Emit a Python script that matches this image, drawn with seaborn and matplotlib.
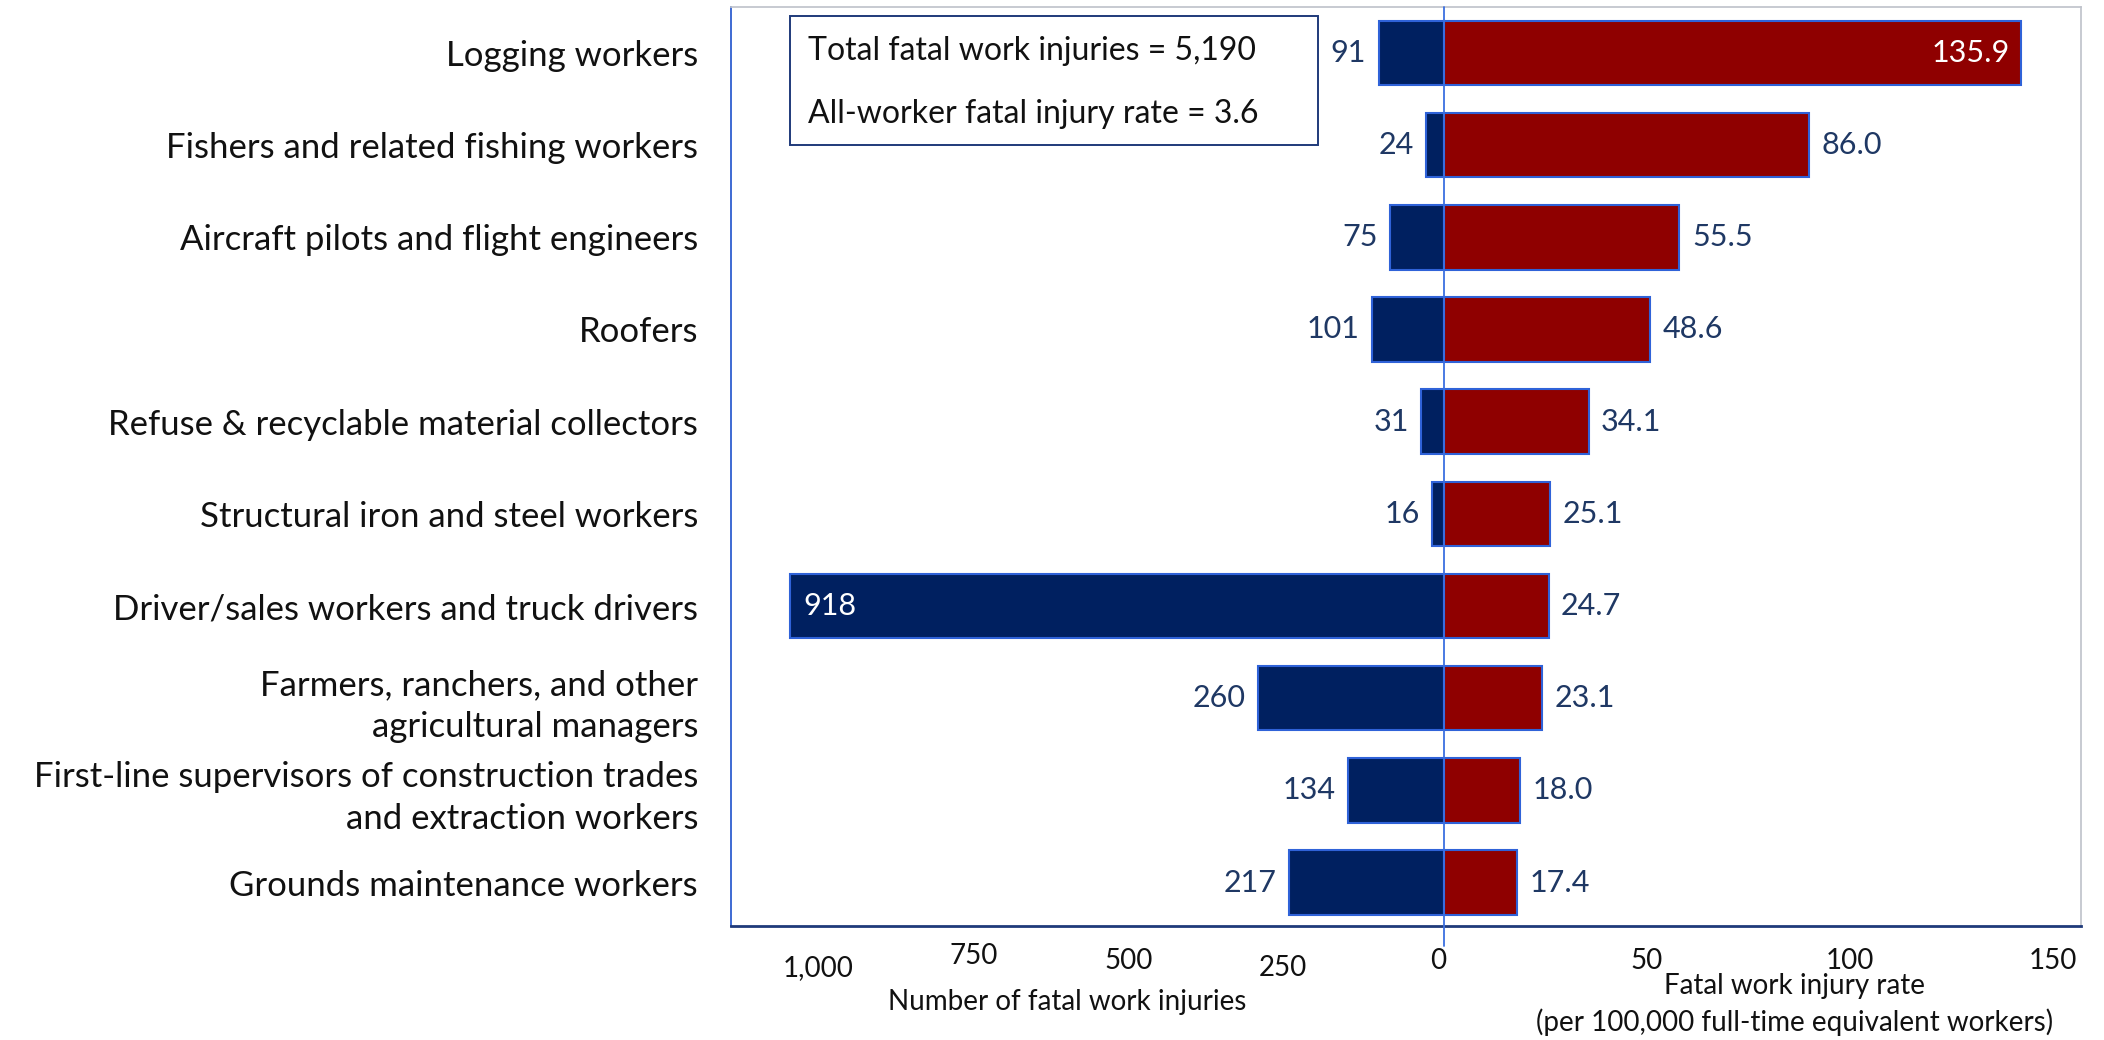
import numpy as np
import pandas as pd
import matplotlib
matplotlib.use('Agg')
import matplotlib.pyplot as plt
import seaborn as sns
from matplotlib.patches import Rectangle

# data
occupations = [
    'Logging workers',
    'Fishers and related fishing workers',
    'Aircraft pilots and flight engineers',
    'Roofers',
    'Refuse & recyclable material collectors',
    'Structural iron and steel workers',
    'Driver/sales workers and truck drivers',
    'Farmers, ranchers, and other\nagricultural managers',
    'First-line supervisors of construction trades\nand extraction workers',
    'Grounds maintenance workers',
]
fatal_counts = [91, 24, 75, 101, 31, 16, 918, 260, 134, 217]
fatal_rates = [135.9, 86.0, 55.5, 48.6, 34.1, 25.1, 24.7, 23.1, 18.0, 17.4]
count_ticks = [1000, 750, 500, 250, 0]
count_tick_labels = ['1,000', '750', '500', '250', '0']
rate_ticks = [50, 100, 150]
rate_tick_labels = ['50', '100', '150']
box_lines = ['Total fatal work injuries = 5,190', 'All-worker fatal injury rate = 3.6']

NAVY = '#002060'
RED = '#8f0000'
EDGE = '#2f62d8'
TXT = '#1f3864'

# counts are drawn on the left, scaled so 1,000 reaches the left frame
k = 0.1675
df = pd.DataFrame({'occ': occupations,
                   'count_x': -np.array(fatal_counts) * k,
                   'rate': fatal_rates})

sns.set_theme(style='white')
plt.rcParams['font.family'] = ['Lato', 'DejaVu Sans']

fig = plt.figure(figsize=(21.04, 10.40), dpi=100)
ax = fig.add_axes([0.3476, 0.1097, 0.6416, 0.8838])

sns.barplot(data=df, x='count_x', y='occ', orient='h', color=NAVY, width=0.7,
            edgecolor=EDGE, linewidth=1.5, saturation=1, ax=ax)
sns.barplot(data=df, x='rate', y='occ', orient='h', color=RED, width=0.7,
            edgecolor=EDGE, linewidth=1.5, saturation=1, ax=ax)

ax.set_xlim(-1000 * k, 150)
ax.set_ylim(9.47, -0.5)
ax.axvline(0, ymin=-0.022, ymax=1, color='#3b6fe0', lw=1.3, clip_on=False, zorder=5)

# value labels
for i, (c, r) in enumerate(zip(fatal_counts, fatal_rates)):
    if c > 800:
        ax.annotate(f'{c}', (-c * k, i), xytext=(10, 0), textcoords='offset points',
                    ha='left', va='center', color='white', fontsize=22)
    else:
        ax.annotate(f'{c}', (-c * k, i), xytext=(-9, 0), textcoords='offset points',
                    ha='right', va='center', color=TXT, fontsize=22)
    if r > 120:
        ax.annotate(f'{r:.1f}', (r, i), xytext=(-8, 0), textcoords='offset points',
                    ha='right', va='center', color='white', fontsize=22)
    else:
        ax.annotate(f'{r:.1f}', (r, i), xytext=(9, 0), textcoords='offset points',
                    ha='left', va='center', color=TXT, fontsize=22)

# axis ticks (labels sit a little off the true positions, as in the original)
left_pos = [-(t * 0.87 * k) - 1.3 for t in count_ticks]
right_pos = [t * 0.955 for t in rate_ticks]
ax.set_xticks(left_pos + right_pos)
ax.set_xticklabels(count_tick_labels + rate_tick_labels, fontsize=20, color='#111111')
ax.tick_params(axis='x', length=0)
pads = [21, 12, 16, 21, 16, 16, 16, 16]
for t, p in zip(ax.xaxis.get_major_ticks(), pads):
    t.set_pad(p)

ax.tick_params(axis='y', length=0, pad=24)
for lab in ax.get_yticklabels():
    lab.set_fontsize(25)
    lab.set_color('#111111')
    lab.set_linespacing(1.38)
ax.set_xlabel('')
ax.set_ylabel('')

# frame
for s in ['left', 'right', 'top', 'bottom']:
    ax.spines[s].set_visible(True)
ax.spines['left'].set_color('#2f5fd0')
ax.spines['left'].set_linewidth(1.3)
ax.spines['top'].set_color('#c0c4cc')
ax.spines['right'].set_color('#c0c4cc')
ax.spines['bottom'].set_color('#1f3a7a')
ax.spines['bottom'].set_linewidth(2)

# axis titles
fig.text(0.507, 0.037, 'Number of fatal work injuries', ha='center', va='center',
         fontsize=20, color='#111111')
fig.text(0.853, 0.052, 'Fatal work injury rate', ha='center', va='center',
         fontsize=20, color='#111111')
fig.text(0.853, 0.017, '(per 100,000 full-time equivalent workers)', ha='center',
         va='center', fontsize=20, color='#111111')

# totals box
ax.add_patch(Rectangle((0.0437, 0.85), 0.391, 0.14, transform=ax.transAxes,
                       facecolor='white', edgecolor='#1f3a7a', lw=1.4, zorder=6))
ax.text(0.057, 0.952, box_lines[0], transform=ax.transAxes, ha='left', va='center',
        fontsize=23, color='#111111', zorder=7)
ax.text(0.057, 0.883, box_lines[1], transform=ax.transAxes, ha='left', va='center',
        fontsize=23, color='#111111', zorder=7)

fig.savefig('out.png', dpi=100)
